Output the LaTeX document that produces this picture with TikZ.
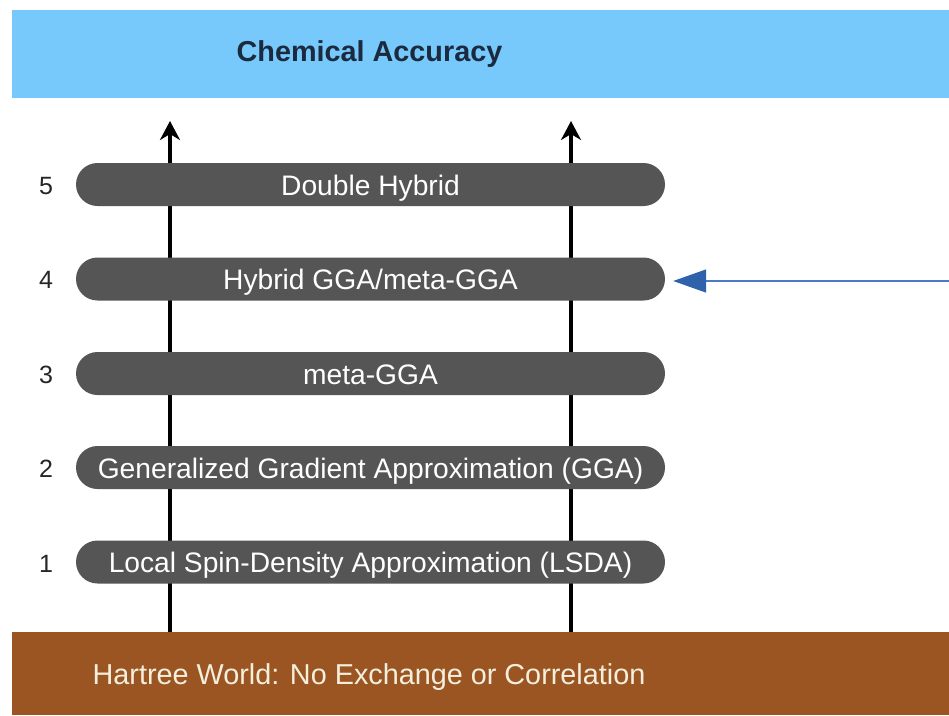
\documentclass[tikz,border=0pt]{standalone}
\usepackage{fontspec}
\setmainfont{Liberation Sans}
\usetikzlibrary{arrows.meta}
\definecolor{skyband}{HTML}{76C9FA}
\definecolor{skytext}{HTML}{1B2A3E}
\definecolor{rungfill}{HTML}{555555}
\definecolor{groundfill}{HTML}{9B5523}
\definecolor{groundtext}{HTML}{F4EFDD}
\definecolor{pointline}{HTML}{4A7BC4}
\definecolor{pointhead}{HTML}{2F62AB}
\tikzset{
  band/.style={draw=none, minimum width=937pt, inner sep=0pt, outer sep=0pt},
  rung/.style={fill=rungfill, draw=none, rounded corners=21.5pt, minimum width=589pt,
    minimum height=43pt, inner sep=0pt, text=white, text height=24pt, text depth=3pt,
    font=\fontsize{28.2}{32}\selectfont},
  rungnum/.style={font=\fontsize{25}{28}\selectfont, text=black!85, inner sep=0pt},
  ladderline/.style={line width=4pt, black, -{Stealth[length=19pt,width=20pt,inset=6pt]}},
  pointer/.style={line width=1.5pt, pointline, -{Triangle[length=33pt,width=23pt,color=pointhead,fill=pointhead]}}
}
\begin{document}
\begin{tikzpicture}[x=1pt,y=-1pt]
\useasboundingbox (0,0) rectangle (949,715);
\fill[white] (0,0) rectangle (949,715);
% top band
\node[band, fill=skyband, minimum height=88pt, anchor=north west] (sky) at (12,10) {};
\node[font=\bfseries\fontsize{28.8}{32}\selectfont, text=skytext] (skylabel) at (369.5,54) {Chemical Accuracy};
% bottom band
\node[band, fill=groundfill, minimum height=83pt, anchor=north west] (ground) at (12,632) {};
\node[font=\fontsize{28.8}{32}\selectfont, text=groundtext, text height=21pt, text depth=6pt] (groundlabel) at (369,677) {Hartree World: No Exchange or Correlation};
% arrow tips
\coordinate (lefttip) at (170,121);
\coordinate (righttip) at (571,121);
\draw[ladderline] (ground.north -| lefttip) -- (lefttip);
\draw[ladderline] (ground.north -| righttip) -- (righttip);
% rungs
\node[rung] (r5) at (370.5,184.5) {Double Hybrid};
\node[rung] (r4) at (370.5,279) {Hybrid GGA/meta-GGA};
\node[rung] (r3) at (370.5,373.5) {meta-GGA};
\node[rung] (r2) at (370.5,467.5) {Generalized Gradient Approximation (GGA)};
\node[rung] (r1) at (370.5,562) {Local Spin-Density Approximation (LSDA)};
% numbers
\node[rungnum] (n5) at (46,186) {5};
\node[rungnum] (n4) at (46,280) {4};
\node[rungnum] (n3) at (46,375) {3};
\node[rungnum] (n2) at (46,469) {2};
\node[rungnum] (n1) at (46,564) {1};
% pointer
\coordinate (pstart) at (949,281);
\draw[pointer] (pstart) -- ([xshift=8pt]r4.east |- pstart);
\end{tikzpicture}
\end{document}
